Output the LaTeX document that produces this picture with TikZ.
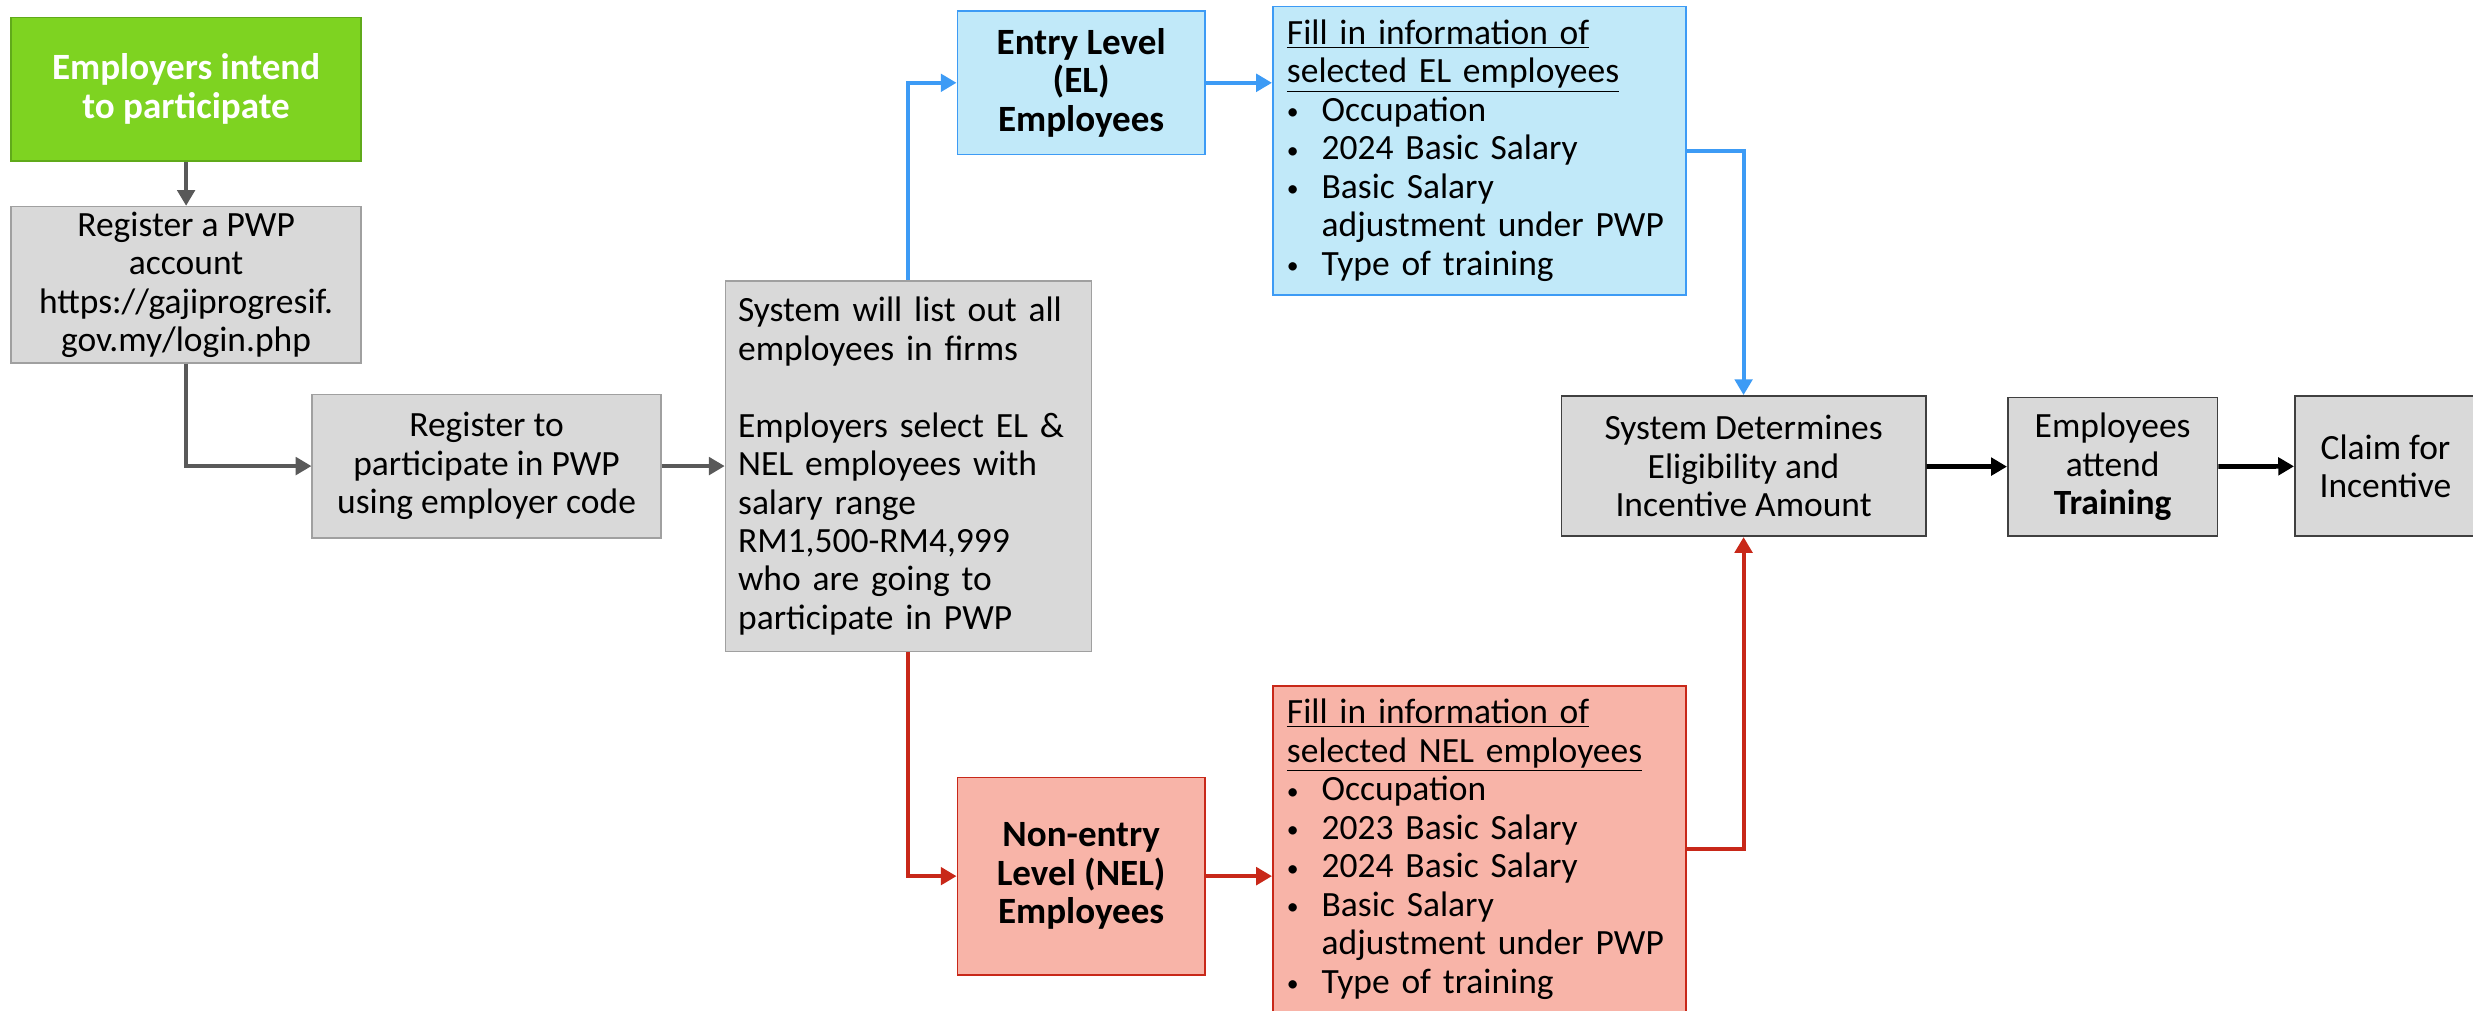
\documentclass[tikz,border=0pt]{standalone}
\usepackage{fontspec}
\setmainfont{Carlito}
\usepackage{xcolor}
\usetikzlibrary{arrows.meta, positioning}

\definecolor{startgreen}{RGB}{126,211,33}
\definecolor{startline}{RGB}{96,170,26}
\definecolor{stepgray}{RGB}{217,217,217}
\definecolor{stepline}{RGB}{160,160,160}
\definecolor{elblue}{RGB}{193,233,249}
\definecolor{elline}{RGB}{61,155,245}
\definecolor{nelred}{RGB}{248,180,168}
\definecolor{nelline}{RGB}{200,40,25}
\definecolor{flowgray}{RGB}{89,89,89}

\newcommand{\itembul}{\makebox[22pt][l]{\raisebox{1pt}{\fontsize{15}{15}\selectfont\textbullet}}}

\begin{document}
\begin{tikzpicture}[x=1pt, y=-1pt,
    every node/.style = {inner sep=0pt, font=\fontsize{22.5}{24.4}\selectfont},
    box/.style = {draw=stepline, fill=stepgray, line width=1pt, align=center},
    darkbox/.style = {box, draw=black!75},
    elbox/.style = {box, draw=elline, fill=elblue},
    nelbox/.style = {box, draw=nelline, fill=nelred},
    grayflow/.style = {draw=flowgray, line width=2.5pt, -{Triangle[length=10pt, width=11pt]}},
    blueflow/.style = {grayflow, draw=elline},
    redflow/.style = {grayflow, draw=nelline},
    blackflow/.style = {grayflow, draw=black, line width=3pt}]
    \useasboundingbox (0,0) rectangle (1568,641);

    % left column
    \node (intend) [box, draw=startline, fill=startgreen, text=white, font=\fontsize{23.5}{24.4}\selectfont\bfseries,
        minimum width=222pt, minimum height=91pt] at (118,56.5) {Employers intend\\to participate};
    \node (account) [box, minimum width=222pt, minimum height=99pt] at (118,180.5)
        {Register a PWP\\account\\https://gajiprogresif.\\gov.my/login.php};
    \node (register) [box, minimum width=221pt, minimum height=91pt] at (308.5,295.5)
        {Register to\\participate in PWP\\using employer code};
    \node (listout) [box, align=left, text width=216pt, minimum width=232pt, minimum height=235pt] at (576,295.5)
        {System will list out all\\employees in firms\\[24.4pt]Employers select EL \&\\NEL employees with\\salary range\\RM1,500-RM4,999\\who are going to\\participate in PWP};

    % EL and NEL branches
    \node (el) [elbox, font=\fontsize{23.5}{24.4}\selectfont\bfseries, minimum width=157pt, minimum height=91pt] at (685.5,52.5)
        {Entry Level\\(EL)\\Employees};
    \node (elinfo) [elbox, align=left, text width=244pt, minimum width=262pt, minimum height=183pt] at (938,95.5)
        {\underline{Fill in information of}\\\underline{selected EL employees}\\
         \itembul Occupation\\
         \itembul 2024 Basic Salary\\
         \itembul Basic Salary\\
         \hspace*{22pt}adjustment under PWP\\
         \itembul Type of training};
    \node (nel) [nelbox, font=\fontsize{23.5}{24.4}\selectfont\bfseries, minimum width=157pt, minimum height=125pt] at (685.5,555.5)
        {Non-entry\\Level (NEL)\\Employees};
    \node (nelinfo) [nelbox, align=left, text width=244pt, minimum width=262pt, minimum height=207pt] at (938,538.5)
        {\underline{Fill in information of}\\\underline{selected NEL employees}\\
         \itembul Occupation\\
         \itembul 2023 Basic Salary\\
         \itembul 2024 Basic Salary\\
         \itembul Basic Salary\\
         \hspace*{22pt}adjustment under PWP\\
         \itembul Type of training};

    % right row
    \node (determine) [darkbox, minimum width=231pt, minimum height=89pt] at (1105.5,295.5)
        {System Determines\\Eligibility and\\Incentive Amount};
    \node (training) [darkbox, minimum width=133pt, minimum height=88pt] at (1339.5,296)
        {Employees\\attend\\\textbf{Training}};
    \node (claim) [darkbox, minimum width=115pt, minimum height=89pt] at (1512.5,295.5)
        {Claim for\\Incentive};

\draw [grayflow] (intend) -- (account);
\draw [grayflow] (account.south) |- (register.west);
\draw [grayflow] (register) -- (listout);
\draw [blueflow] (listout.north) |- (el.west);
\draw [blueflow] (el.east) -- (el.east -| elinfo.west);
\draw [blueflow] (elinfo.east) -| (determine.north);
\draw [redflow] (listout.south) |- (nel.west);
\draw [redflow] (nel.east) -- (nel.east -| nelinfo.west);
\draw [redflow] (nelinfo.east) -| (determine.south);
\draw [blackflow] (determine) -- (training);
\draw [blackflow] (training) -- (claim);

\end{tikzpicture}
\end{document}
